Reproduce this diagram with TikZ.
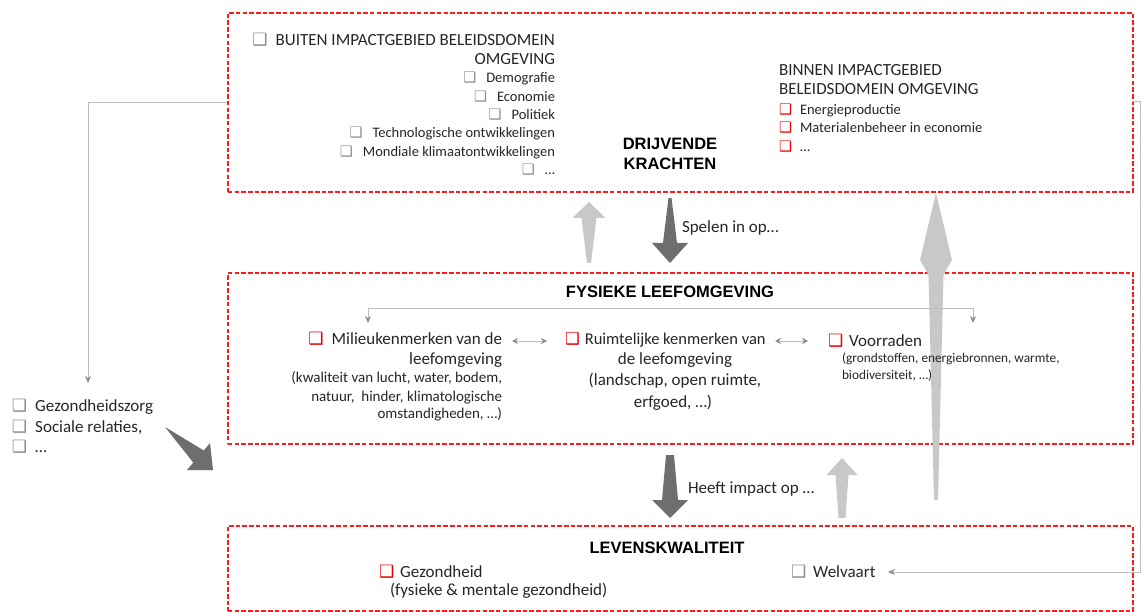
\documentclass[tikz,border=0pt]{standalone}
\usepackage{fontspec}
\setmainfont{Carlito}
\newfontfamily\hdfont{Liberation Sans}
\newfontfamily\djfont{DejaVu Sans}
\usetikzlibrary{arrows.meta}
\definecolor{boxred}{HTML}{FF1A1A}
\definecolor{txtc}{HTML}{262626}
\definecolor{connc}{HTML}{BDBDBD}
\definecolor{tipc}{HTML}{8C8C8C}
\definecolor{darkarr}{HTML}{6E6E6E}
\definecolor{lightarr}{HTML}{C8C8C8}
\definecolor{cbgray}{HTML}{8E8E8E}
\definecolor{cbred}{HTML}{E80000}
\newcommand\fsz[1]{\fontsize{#1}{#1}\selectfont}
\newcommand\cbx[1]{{\djfont\bfseries\color{#1}❑}}
\tikzset{
  frame/.style={draw=boxred, line width=1.8pt, dash pattern=on 4.5pt off 2.2pt, inner sep=0pt, anchor=north west},
  tx/.style={inner sep=0pt, outer sep=0pt, text=txtc},
  big/.style={tx, font=\fsz{17}},
  mid/.style={tx, font=\fsz{15}},
  sml/.style={tx, font=\fsz{14.5}},
  tiny/.style={tx, font=\fsz{13.3}},
  hd/.style={inner sep=0pt, text=black, font=\hdfont\bfseries\fsz{16.5}},
  conn/.style={draw=connc, line width=0.8pt},
  tipped/.style={-{Stealth[length=7pt,width=6pt,color=tipc]}},
  dtipped/.style={{Stealth[length=6pt,width=6pt,color=tipc]}-{Stealth[length=6pt,width=6pt,color=tipc]}},
  darkfill/.style={fill=darkarr},
  lightfill/.style={fill=lightarr},
}
\begin{document}
\begin{tikzpicture}[x=1pt,y=-1pt]
\useasboundingbox (0,0) rectangle (1144,612);
\fill[white] (0,0) rectangle (1144,612);

% frames
\node[frame, minimum width=905pt, minimum height=179pt] (topbox) at (227,12) {};
\node[frame, minimum width=905pt, minimum height=171pt] (midbox) at (227,272) {};
\node[frame, minimum width=905pt, minimum height=85pt] (botbox) at (227,525) {};

% block arrows
\fill[lightfill] (936,193) -- (952,260) -- (943.5,275) -- (938,500) -- (934,500) -- (928.5,275) -- (920,260) -- cycle;
\fill[darkfill] (668.5,198) -- (671.5,198) -- (677,243) -- (688,243) -- (670,263) -- (652,243) -- (663,243) -- cycle;
\fill[lightfill] (589,202) -- (605.5,218) -- (596.5,218) -- (591,263) -- (587,263) -- (581.5,218) -- (572.5,218) -- cycle;
\fill[darkfill] (666,455) -- (674,455) -- (678,500) -- (688,500) -- (670,518) -- (652,500) -- (662,500) -- cycle;
\fill[lightfill] (842,458) -- (857.5,475) -- (848.5,475) -- (845.5,518) -- (838.5,518) -- (835.5,475) -- (826.5,475) -- cycle;
\fill[darkfill] (165,427) -- (203.8,450.5) -- (210,443) -- (213,470) -- (187,470) -- (193.2,462.5) -- cycle;

% top box texts
\node[tx, font=\fsz{17}, anchor=base east] (buit1) at (555,46) {\cbx{cbgray}\hspace{8pt}BUITEN IMPACTGEBIED BELEIDSDOMEIN};
\node[tx, font=\fsz{17}, anchor=base east] (buit2) at (555,65) {OMGEVING};
\node[sml, anchor=base east] (demo) at (555,83) {\cbx{cbgray}\hspace{10pt}Demografie};
\node[sml, anchor=base east] (econ) at (555,102) {\cbx{cbgray}\hspace{10pt}Economie};
\node[sml, anchor=base east] (poli) at (555,120) {\cbx{cbgray}\hspace{10pt}Politiek};
\node[sml, anchor=base east] (tech) at (555,138) {\cbx{cbgray}\hspace{10pt}Technologische ontwikkelingen};
\node[sml, anchor=base east] (mond) at (555,157) {\cbx{cbgray}\hspace{10pt}Mondiale klimaatontwikkelingen};
\node[sml, anchor=base east] (dots1) at (555,175) {\cbx{cbgray}\hspace{10pt}…};

\node[tx, font=\fsz{17}, anchor=base west] (binn1) at (779,76) {BINNEN IMPACTGEBIED};
\node[tx, font=\fsz{17}, anchor=base west] (binn2) at (779,95) {BELEIDSDOMEIN OMGEVING};
\node[sml, anchor=base west] (ener) at (779,115) {\cbx{cbred}\hspace{8pt}Energieproductie};
\node[sml, anchor=base west] (mat) at (779,133) {\cbx{cbred}\hspace{8pt}Materialenbeheer in economie};
\node[sml, anchor=base west] (dots2) at (779,152) {\cbx{cbred}\hspace{8pt}…};

\node[hd, anchor=base] (drij1) at (670,150) {DRIJVENDE};
\node[hd, anchor=base] (drij2) at (670,170) {KRACHTEN};

\node[big, anchor=base west] (spel) at (682,233) {Spelen in op…};

% middle box texts
\node[hd, anchor=base] (fys) at (670,298) {FYSIEKE LEEFOMGEVING};
\node[big, anchor=base east] (mil1) at (502,345) {\cbx{cbred}\hspace{8pt}Milieukenmerken van de};
\node[big, anchor=base east] (mil2) at (502,365) {leefomgeving};
\node[mid, anchor=base east] (mil3) at (502,383) {(kwaliteit van lucht, water, bodem,};
\node[mid, anchor=base east] (mil4) at (502,402) {natuur,\ \ hinder, klimatologische};
\node[mid, anchor=base east] (mil5) at (502,419) {omstandigheden, …)};

\node[tx, font=\fsz{16.5}, anchor=base west] (rui1) at (565,345) {\cbx{cbred}\hspace{5pt}Ruimtelijke kenmerken van};
\node[big, anchor=base] (rui2) at (675,365) {de leefomgeving};
\node[big, anchor=base] (rui3) at (675,386) {(landschap, open ruimte,};
\node[big, anchor=base] (rui4) at (673,407) {erfgoed, …)};

\node[big, anchor=base west] (voo1) at (828,347) {\cbx{cbred}\hspace{6pt}Voorraden};
\node[tiny, anchor=base west] (voo2) at (842,363) {(grondstoffen, energiebronnen, warmte,};
\node[tiny, anchor=base west] (voo3) at (842,380) {biodiversiteit, …)};

\coordinate (brL) at (368,308);
\coordinate (brR) at (973,308);
\coordinate (brLe) at (368,323);
\coordinate (brRe) at (973,323);
\draw[conn, {Stealth[length=7pt,width=6pt,color=tipc]}-{Stealth[length=7pt,width=6pt,color=tipc]}] (brLe) -- (brL) -- (brR) -- (brRe);

\coordinate (d1a) at (512,341);
\coordinate (d1b) at (547,341);
\coordinate (d2a) at (775,341);
\coordinate (d2b) at (808,341);
\draw[conn, dtipped] (d1a) -- (d1b);
\draw[conn, dtipped] (d2a) -- (d2b);

% left list
\node[big, anchor=base west] (gz1) at (12,412) {\cbx{cbgray}\hspace{8pt}Gezondheidszorg};
\node[big, anchor=base west] (gz2) at (12,432) {\cbx{cbgray}\hspace{8pt}Sociale relaties,};
\node[big, anchor=base west] (gz3) at (12,452) {\cbx{cbgray}\hspace{8pt}…};

\node[big, anchor=base west] (heeft) at (688,493) {Heeft impact op …};

% bottom box texts
\node[hd, anchor=base] (lev) at (667,553) {LEVENSKWALITEIT};
\node[big, anchor=base west] (gez1) at (379,577) {\cbx{cbred}\hspace{6pt}Gezondheid};
\node[big, anchor=base west] (gez2) at (390,595) {(fysieke \& mentale gezondheid)};
\node[big, anchor=base west] (welv) at (791,577) {\cbx{cbgray}\hspace{7pt}Welvaart};

% thin connectors
\coordinate (tlout) at (227,102);
\coordinate (lcorner) at (88,102);
\coordinate (lend) at (88,383);
\draw[conn, tipped] (tlout) -- (lcorner) -- (lend);

\coordinate (trout) at (1132,101);
\coordinate (rcorner1) at (1140,101);
\coordinate (rcorner2) at (1140,572);
\coordinate (rend) at (888,572);
\draw[conn, tipped] (trout) -- (rcorner1) -- (rcorner2) -- (rend);
\end{tikzpicture}
\end{document}
